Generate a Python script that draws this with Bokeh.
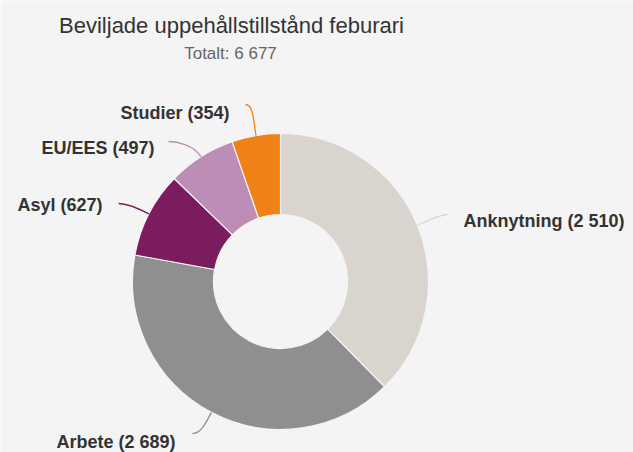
import numpy as np
from bokeh.plotting import figure
from bokeh.models import Range1d
from bokeh.core.properties import value
from bokeh.embed import file_html
from bokeh.resources import INLINE

# ---- data ----
categories = ["Anknytning", "Arbete", "Asyl", "EU/EES", "Studier"]
counts = [2510, 2689, 627, 497, 354]
colors = ["#d9d4ce", "#8f8f8f", "#7b1c5e", "#bd8db5", "#f08117"]
title_text = "Beviljade uppehållstillstånd feburari"

# ---- layout (image pixel coordinates) ----
W, H = 633, 452
def dx(X):
    return X
def dy(Y):
    return H - Y

CX, CY = 280, 281          # donut centre
R_OUT, R_IN = 148, 67
# per label: connector end (x, y), text x, text vertical centre y, align
label_layout = [
    (447, 214, 463, 220, "left"),
    (192, 433, 175, 441, "right"),
    (118, 203, 102, 204, "right"),
    (168, 141, 154, 147, "right"),
    (245, 104, 229, 112, "right"),
]

total = sum(counts)
cum = np.cumsum([0] + counts)
start = np.pi / 2 - 2 * np.pi * cum[:-1] / total
end = np.pi / 2 - 2 * np.pi * cum[1:] / total
mid = (start + end) / 2

def fmt(n):
    return format(n, ",").replace(",", " ")

labels = [f"{c} ({fmt(v)})" for c, v in zip(categories, counts)]
subtitle = f"Totalt: {fmt(total)}"

p = figure(width=W, height=H, output_backend="svg", toolbar_location=None,
           x_range=Range1d(0, W), y_range=Range1d(0, H), min_border=0,
           background_fill_color="#f4f4f4", border_fill_color="#f4f4f4")
p.axis.visible = False
p.grid.visible = False
p.outline_line_color = None

p.annular_wedge(x=dx(CX), y=dy(CY), inner_radius=R_IN, outer_radius=R_OUT,
                inner_radius_units="screen", outer_radius_units="screen",
                start_angle=start, end_angle=end, direction="clock",
                fill_color=colors, line_color="#f4f4f4", line_width=1.2)

# connectors
x0 = dx(CX) + R_OUT * np.cos(mid)
y0 = dy(CY) + R_OUT * np.sin(mid)
cx0 = dx(CX) + (R_OUT + 14) * np.cos(mid)
cy0 = dy(CY) + (R_OUT + 14) * np.sin(mid)
x1 = np.array([dx(l[0]) for l in label_layout], dtype=float)
y1 = np.array([dy(l[1]) for l in label_layout], dtype=float)
sign = np.array([1 if l[4] == "left" else -1 for l in label_layout])
cx1 = x1 - sign * 8
cy1 = y1
p.bezier(x0=x0, y0=y0, x1=x1, y1=y1, cx0=cx0, cy0=cy0, cx1=cx1, cy1=cy1,
         line_color=colors, line_width=1.3)

# labels
for (lx, ly, tx, ty, al), lab in zip(label_layout, labels):
    p.text(x=[dx(tx)], y=[dy(ty)], text=[lab], text_align=al,
           text_baseline="middle", text_font=value("Liberation Sans"),
           text_font_style="bold", text_font_size="18px", text_color="#333333")

# title / subtitle
p.text(x=[dx(231)], y=[dy(25)], text=[title_text], text_align="center",
       text_baseline="middle", text_font=value("Liberation Sans"),
       text_font_size="22px", text_color="#333333")
p.text(x=[dx(230)], y=[dy(53)], text=[subtitle], text_align="center",
       text_baseline="middle", text_font=value("Liberation Sans"),
       text_font_size="17px", text_color="#666666")

open("out.html", "w").write(file_html(p, INLINE))
